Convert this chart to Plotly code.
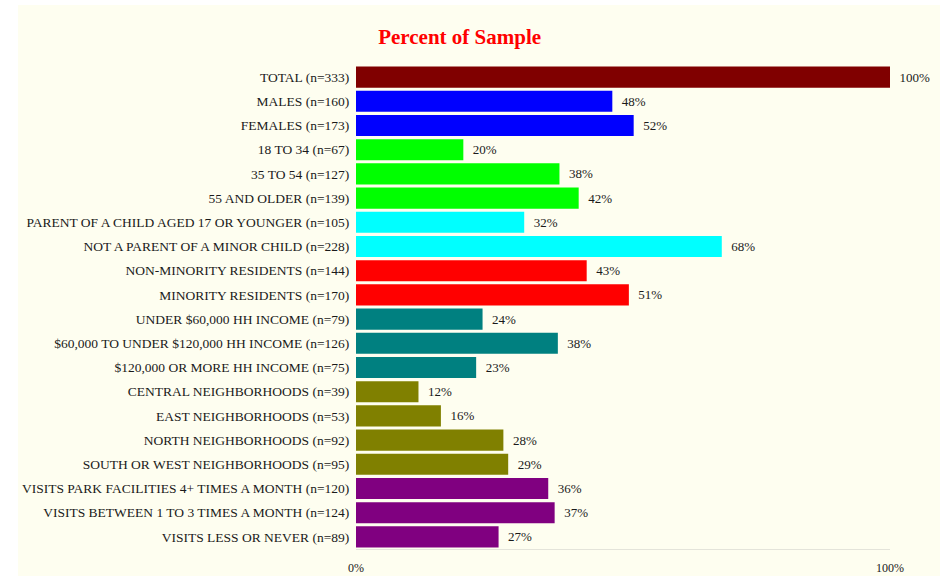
import plotly.graph_objects as go

categories = [
    "TOTAL (n=333)",
    "MALES (n=160)",
    "FEMALES (n=173)",
    "18 TO 34 (n=67)",
    "35 TO 54 (n=127)",
    "55 AND OLDER (n=139)",
    "PARENT OF A CHILD AGED 17 OR YOUNGER (n=105)",
    "NOT A PARENT OF A MINOR CHILD (n=228)",
    "NON-MINORITY RESIDENTS (n=144)",
    "MINORITY RESIDENTS (n=170)",
    "UNDER $60,000 HH INCOME (n=79)",
    "$60,000 TO UNDER $120,000 HH INCOME (n=126)",
    "$120,000 OR MORE HH INCOME (n=75)",
    "CENTRAL NEIGHBORHOODS (n=39)",
    "EAST NEIGHBORHOODS (n=53)",
    "NORTH NEIGHBORHOODS (n=92)",
    "SOUTH OR WEST NEIGHBORHOODS (n=95)",
    "VISITS PARK FACILITIES 4+ TIMES A MONTH (n=120)",
    "VISITS BETWEEN 1 TO 3 TIMES A MONTH (n=124)",
    "VISITS LESS OR NEVER (n=89)",
]
# bar lengths (percent of sample, as drawn)
bar_values = [100.0, 48.0, 52.0, 20.1, 38.1, 41.7, 31.5, 68.5, 43.2, 51.1,
              23.7, 37.8, 22.5, 11.7, 15.9, 27.6, 28.5, 36.0, 37.2, 26.7]
# printed percent labels
percent_labels = ["100%", "48%", "52%", "20%", "38%", "42%", "32%", "68%", "43%", "51%",
                  "24%", "38%", "23%", "12%", "16%", "28%", "29%", "36%", "37%", "27%"]
colors = [
    "#800000",
    "#0000FF", "#0000FF",
    "#00FF00", "#00FF00", "#00FF00",
    "#00FFFF", "#00FFFF",
    "#FF0000", "#FF0000",
    "#008080", "#008080", "#008080",
    "#808000", "#808000", "#808000", "#808000",
    "#800080", "#800080", "#800080",
]
tick_vals = [0, 100]
tick_text = ["0%", "100%"]

CREAM = "#FEFEF0"
FONT = "Liberation Serif, Times New Roman, serif"

fig = go.Figure(go.Bar(
    x=bar_values,
    y=categories,
    orientation="h",
    marker=dict(color=colors, line=dict(width=0)),
    text=["  " + t for t in percent_labels],
    textposition="outside",
    textfont=dict(family=FONT, size=13, color="#1a1a1a"),
    cliponaxis=False,
    hoverinfo="skip",
))

fig.update_layout(
    width=940, height=576,
    margin=dict(l=356, r=50, t=65, b=27, autoexpand=False),
    paper_bgcolor="white",
    plot_bgcolor=CREAM,
    bargap=0.13,
    showlegend=False,
    font=dict(family=FONT, size=13, color="#1a1a1a"),
    title=dict(text="<b>Percent of Sample</b>", x=0.489, xanchor="center",
               y=0.937, yanchor="middle",
               font=dict(family=FONT, size=21, color="#FF0000")),
    shapes=[dict(type="rect", xref="paper", yref="paper",
                 x0=(18 - 356) / 534, x1=(940 - 356) / 534,
                 y0=-27 / 484 - 0.01, y1=1 + (65 - 5) / 484,
                 fillcolor=CREAM, line=dict(width=0), layer="below")],
)
fig.update_xaxes(range=[0, 100], tickvals=tick_vals, ticktext=tick_text,
                 showgrid=False, zeroline=False, showline=True,
                 linecolor="#E4E4DA", linewidth=1, automargin=False,
                 ticks="outside", ticklen=8, tickcolor=CREAM,
                 tickfont=dict(family=FONT, size=12, color="#1a1a1a"))
fig.update_yaxes(autorange="reversed", showgrid=False, zeroline=False,
                 automargin=False,
                 ticks="outside", ticklen=3, tickcolor=CREAM,
                 tickfont=dict(family=FONT, size=13.5, color="#1a1a1a"))

fig.write_html("out.html")
